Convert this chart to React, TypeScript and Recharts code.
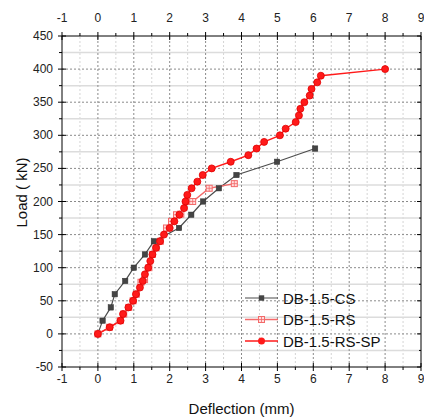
import React from 'react';
import { LineChart, Line, XAxis, YAxis, ReferenceLine, Legend, Label } from 'recharts';

// ---- data ----
const csX = [0, 0.13, 0.36, 0.47, 0.76, 1.0, 1.31, 1.56, 2.26, 2.6, 2.93, 3.37, 3.86, 4.99, 6.05];
const csY = [0, 20, 40, 60, 80, 100, 120, 140, 160, 180, 200, 220, 240, 260, 280];

const rsX = [0, 0.32, 0.62, 0.72, 0.86, 0.98, 1.07, 1.2, 1.3, 1.42, 1.52, 1.62, 1.74, 1.91, 2.05, 2.19, 2.31, 2.52, 2.64, 3.1, 3.8];
const rsY = [0, 10, 20, 30, 40, 50, 60, 78, 82, 100, 120, 130, 140, 160, 170, 180, 181, 200, 200, 220, 227];

const spX = [0, 0.33, 0.63, 0.7, 0.85, 0.98, 1.06, 1.17, 1.25, 1.31, 1.4, 1.46, 1.52, 1.62, 1.73, 1.84, 2.0, 2.13, 2.27, 2.4, 2.44, 2.49, 2.61, 2.77, 2.92, 3.17, 3.7, 4.19, 4.42, 4.63, 5.07, 5.23, 5.51, 5.6, 5.64, 5.75, 5.9, 5.95, 6.11, 6.21, 8.0];
const spY = [0, 10, 20, 30, 40, 50, 60, 70, 80, 90, 100, 110, 120, 130, 140, 150, 160, 170, 180, 190, 200, 210, 220, 230, 240, 250, 260, 270, 280, 290, 300, 310, 320, 330, 340, 350, 360, 370, 380, 390, 400];

const seriesNames = ['DB-1.5-CS', 'DB-1.5-RS', 'DB-1.5-RS-SP'];

const xMajor = [-1, 0, 1, 2, 3, 4, 5, 6, 7, 8, 9];
const xMinor = [-0.5, 0.5, 1.5, 2.5, 3.5, 4.5, 5.5, 6.5, 7.5, 8.5];
const yMajor = [-50, 0, 50, 100, 150, 200, 250, 300, 350, 400, 450];
const yMinor = [-25, 25, 75, 125, 175, 225, 275, 325, 375, 425];

const toPts = (xs: number[], ys: number[]) => xs.map((x, i) => ({ x, y: ys[i] }));
const csData = toPts(csX, csY);
const rsData = toPts(rsX, rsY);
const spData = toPts(spX, spY);

const xTicks = [...xMajor, ...xMinor].sort((a, b) => a - b);
const yTicks = [...yMajor, ...yMinor].sort((a, b) => a - b);

const FONT = 'Liberation Sans, Arial, sans-serif';
const CS_COLOR = '#4d4d4d';
const RS_COLOR = '#f36a6a';
const SP_COLOR = '#ff1a1a';

const BottomTick = (p: any) => {
  const { x, y, payload } = p;
  const major = Number.isInteger(payload.value);
  return (
    <g>
      <line x1={x} x2={x} y1={major ? y - 4 : y} y2={major ? y + 4 : y + 3} stroke="#000" />
      {major && (
        <text x={x} y={y + 16} textAnchor="middle" fontSize={12} fill="#222" fontFamily={FONT}>
          {payload.value}
        </text>
      )}
    </g>
  );
};

const TopTick = (p: any) => {
  const { x, y, payload } = p;
  const major = Number.isInteger(payload.value);
  return (
    <g>
      <line x1={x} x2={x} y1={major ? y - 4 : y - 3} y2={major ? y + 4 : y} stroke="#000" />
      {major && (
        <text x={x} y={y - 14} textAnchor="middle" fontSize={12} fill="#222" fontFamily={FONT}>
          {payload.value}
        </text>
      )}
    </g>
  );
};

const LeftTick = (p: any) => {
  const { x, y, payload } = p;
  const major = payload.value % 50 === 0;
  return (
    <g>
      <line x1={major ? x - 4 : x - 3} x2={major ? x + 4 : x} y1={y} y2={y} stroke="#000" />
      {major && (
        <text x={x - 9} y={y + 4} textAnchor="end" fontSize={12} fill="#222" fontFamily={FONT}>
          {payload.value}
        </text>
      )}
    </g>
  );
};

const RightTick = (p: any) => {
  const { x, y, payload } = p;
  const major = payload.value % 50 === 0;
  return <line x1={major ? x - 4 : x - 2} x2={x} y1={y} y2={y} stroke="#000" />;
};

const SquareDot = (p: any) => {
  const { cx, cy, index } = p;
  if (cx == null || cy == null) return <g key={`c${index}`} />;
  return <rect key={`c${index}`} x={cx - 2.7} y={cy - 2.7} width={5.4} height={5.4} fill="#444" stroke="#333" strokeWidth={0.5} />;
};

const CrossSquareDot = (p: any) => {
  const { cx, cy, index } = p;
  if (cx == null || cy == null) return <g key={`r${index}`} />;
  return (
    <g key={`r${index}`}>
      <rect x={cx - 3} y={cy - 3} width={6} height={6} fill="#fdd" stroke={RS_COLOR} strokeWidth={1} />
      <line x1={cx - 3} x2={cx + 3} y1={cy} y2={cy} stroke={RS_COLOR} strokeWidth={0.8} />
      <line x1={cx} x2={cx} y1={cy - 3} y2={cy + 3} stroke={RS_COLOR} strokeWidth={0.8} />
    </g>
  );
};

const CircleDot = (p: any) => {
  const { cx, cy, index } = p;
  if (cx == null || cy == null) return <g key={`s${index}`} />;
  return <circle key={`s${index}`} cx={cx} cy={cy} r={3.5} fill={SP_COLOR} stroke="#e00000" strokeWidth={0.8} />;
};

const LegendContent = () => {
  const rowH = 21.5;
  const markers = [
    (cx: number, cy: number) => <rect x={cx - 2.7} y={cy - 2.7} width={5.4} height={5.4} fill="#444" />,
    (cx: number, cy: number) => (
      <g>
        <rect x={cx - 3} y={cy - 3} width={6} height={6} fill="#fdd" stroke={RS_COLOR} />
        <line x1={cx - 3} x2={cx + 3} y1={cy} y2={cy} stroke={RS_COLOR} strokeWidth={0.8} />
        <line x1={cx} x2={cx} y1={cy - 3} y2={cy + 3} stroke={RS_COLOR} strokeWidth={0.8} />
      </g>
    ),
    (cx: number, cy: number) => <circle cx={cx} cy={cy} r={3.5} fill={SP_COLOR} />,
  ];
  const colors = [CS_COLOR, RS_COLOR, SP_COLOR];
  return (
    <svg width={170} height={70} style={{ display: 'block' }}>
      {seriesNames.map((n, i) => {
        const cy = 10 + i * rowH;
        return (
          <g key={n}>
            <line x1={8} x2={41} y1={cy} y2={cy} stroke={colors[i]} strokeWidth={i === 0 ? 1.2 : 1.6} />
            {markers[i](24.5, cy)}
            <text x={46} y={cy + 5.5} fontSize={15} fill="#111" fontFamily={FONT}>
              {n}
            </text>
          </g>
        );
      })}
    </svg>
  );
};

export default function App() {
  return (
    <div style={{ position: 'absolute', left: 0, top: 0, background: '#fff' }}>
      <LineChart
        width={424}
        height={418}
        margin={{ top: 0, right: 0, bottom: 0, left: 0 }}
        style={{ fontFamily: FONT }}
      >
        <XAxis
          xAxisId="b"
          type="number"
          dataKey="x"
          domain={[-1, 9]}
          ticks={xTicks}
          interval={0}
          height={51}
          tickSize={0}
          tickMargin={0}
          tick={BottomTick}
          stroke="#000"
          allowDataOverflow
        >
          <Label
            content={(p: any) => {
              const vb = p.viewBox;
              return (
                <text x={vb.x + vb.width / 2} y={vb.y + 47} textAnchor="middle" fontSize={15} fill="#111" fontFamily={FONT}>
                  Deflection (mm)
                </text>
              );
            }}
          />
        </XAxis>
        <XAxis
          xAxisId="t"
          orientation="top"
          type="number"
          dataKey="x"
          domain={[-1, 9]}
          ticks={xTicks}
          interval={0}
          height={36}
          tickSize={0}
          tickMargin={0}
          tick={TopTick}
          stroke="#000"
          allowDataOverflow
        />
        <YAxis
          yAxisId="l"
          type="number"
          dataKey="y"
          domain={[-50, 450]}
          ticks={yTicks}
          interval={0}
          width={62}
          tickSize={0}
          tickMargin={0}
          tick={LeftTick}
          stroke="#000"
          allowDataOverflow
        >
          <Label
            content={(p: any) => {
              const vb = p.viewBox;
              return (
                <text
                  transform={`translate(${vb.x + 27},${vb.y + vb.height / 2 - 9}) rotate(-90)`}
                  textAnchor="middle"
                  fontSize={15}
                  fill="#111"
                  fontFamily={FONT}
                >
                  Load ( kN)
                </text>
              );
            }}
          />
        </YAxis>
        <YAxis
          yAxisId="r"
          orientation="right"
          type="number"
          domain={[-50, 450]}
          ticks={yTicks}
          interval={0}
          width={3}
          tickSize={0}
          tickMargin={0}
          tick={RightTick}
          stroke="#000"
          allowDataOverflow
        />

        {xMinor.map((v) => (
          <ReferenceLine key={`xm${v}`} xAxisId="b" yAxisId="l" x={v} stroke="#d4d4d4" strokeDasharray="2 2" />
        ))}
        {yMinor.map((v) => (
          <ReferenceLine key={`ym${v}`} xAxisId="b" yAxisId="l" y={v} stroke="#dcdcdc" strokeWidth={1.5} />
        ))}
        {xMajor.filter((v) => v > -1 && v < 9).map((v) => (
          <ReferenceLine key={`xM${v}`} xAxisId="b" yAxisId="l" x={v} stroke="#8a8a8a" strokeDasharray="2 2" />
        ))}
        {yMajor.filter((v) => v > -50 && v < 450).map((v) => (
          <ReferenceLine key={`yM${v}`} xAxisId="b" yAxisId="l" y={v} stroke="#8a8a8a" strokeDasharray="2 2" />
        ))}

        <Line
          xAxisId="b"
          yAxisId="l"
          data={csData}
          dataKey="y"
          name={seriesNames[0]}
          stroke={CS_COLOR}
          strokeWidth={1.2}
          dot={SquareDot}
          isAnimationActive={false}
        />
        <Line
          xAxisId="b"
          yAxisId="l"
          data={rsData}
          dataKey="y"
          name={seriesNames[1]}
          stroke={RS_COLOR}
          strokeWidth={1.4}
          dot={CrossSquareDot}
          isAnimationActive={false}
        />
        <Line
          xAxisId="b"
          yAxisId="l"
          data={spData}
          dataKey="y"
          name={seriesNames[2]}
          stroke={SP_COLOR}
          strokeWidth={1.4}
          dot={CircleDot}
          isAnimationActive={false}
        />
        <Legend
          layout="horizontal"
          verticalAlign="middle"
          align="center"
          content={<LegendContent />}
          wrapperStyle={{ position: 'absolute', left: 237, top: 288, width: 170, height: 70 }}
        />
      </LineChart>
    </div>
  );
}
